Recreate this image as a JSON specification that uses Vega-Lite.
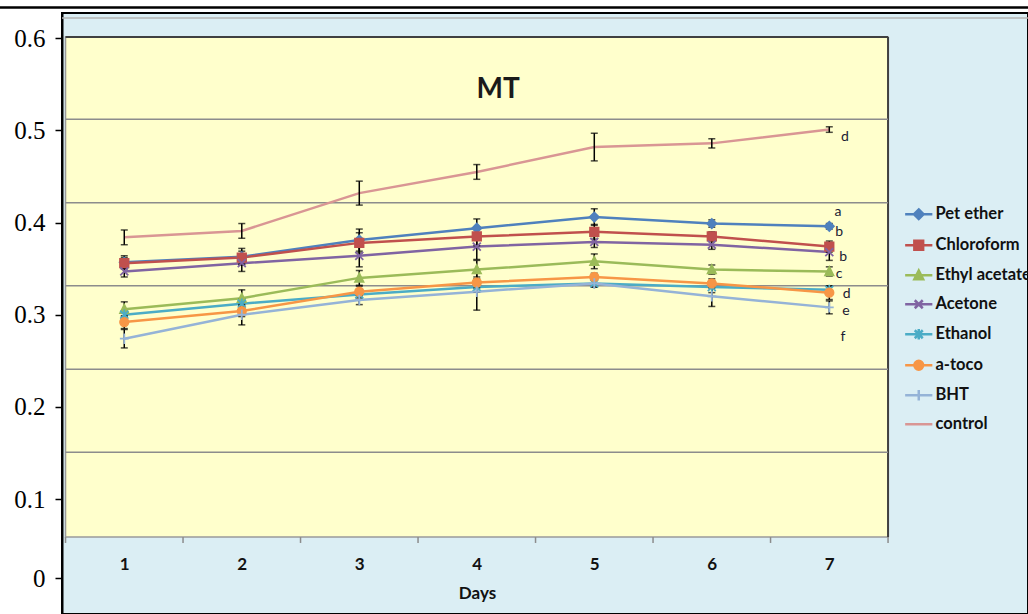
{
  "$schema": "https://vega.github.io/schema/vega-lite/v6.json",
  "width": 966,
  "height": 601,
  "autosize": {"type": "none"},
  "padding": {"left": 62, "top": 13, "right": 0, "bottom": 0},
  "background": "#ffffff",
  "config": {
    "view": {"fill": "#DBEEF4", "stroke": "#000000", "strokeWidth": 2},
    "axis": {"grid": false, "labelOverlap": false, "labelFlush": false},
    "legend": {
      "labelFont": "Lato",
      "labelFontWeight": "bold",
      "labelFontSize": 16.5,
      "labelColor": "#111111",
      "symbolStrokeWidth": 2.5,
      "symbolSize": 64,
      "rowPadding": 10,
      "labelOffset": 8.5,
      "padding": 0
    }
  },
  "datasets": {
    "obs": [
      {"series": "Pet ether", "day": 1, "value": 0.357, "err": 0.007},
      {"series": "Pet ether", "day": 2, "value": 0.363, "err": 0.009},
      {"series": "Pet ether", "day": 3, "value": 0.381, "err": 0.012},
      {"series": "Pet ether", "day": 4, "value": 0.394, "err": 0.010},
      {"series": "Pet ether", "day": 5, "value": 0.406, "err": 0.009},
      {"series": "Pet ether", "day": 6, "value": 0.399, "err": 0.004},
      {"series": "Pet ether", "day": 7, "value": 0.396, "err": 0.003},
      {"series": "Chloroform", "day": 1, "value": 0.356, "err": 0.006},
      {"series": "Chloroform", "day": 2, "value": 0.362, "err": 0.007},
      {"series": "Chloroform", "day": 3, "value": 0.378, "err": 0.011},
      {"series": "Chloroform", "day": 4, "value": 0.385, "err": 0.010},
      {"series": "Chloroform", "day": 5, "value": 0.390, "err": 0.008},
      {"series": "Chloroform", "day": 6, "value": 0.385, "err": 0.005},
      {"series": "Chloroform", "day": 7, "value": 0.374, "err": 0.006},
      {"series": "Ethyl acetate", "day": 1, "value": 0.306, "err": 0.008},
      {"series": "Ethyl acetate", "day": 2, "value": 0.318, "err": 0.009},
      {"series": "Ethyl acetate", "day": 3, "value": 0.340, "err": 0.008},
      {"series": "Ethyl acetate", "day": 4, "value": 0.349, "err": 0.010},
      {"series": "Ethyl acetate", "day": 5, "value": 0.358, "err": 0.008},
      {"series": "Ethyl acetate", "day": 6, "value": 0.349, "err": 0.005},
      {"series": "Ethyl acetate", "day": 7, "value": 0.347, "err": 0.005},
      {"series": "Acetone", "day": 1, "value": 0.347, "err": 0.006},
      {"series": "Acetone", "day": 2, "value": 0.356, "err": 0.009},
      {"series": "Acetone", "day": 3, "value": 0.364, "err": 0.012},
      {"series": "Acetone", "day": 4, "value": 0.374, "err": 0.014},
      {"series": "Acetone", "day": 5, "value": 0.379, "err": 0.006},
      {"series": "Acetone", "day": 6, "value": 0.376, "err": 0.005},
      {"series": "Acetone", "day": 7, "value": 0.368, "err": 0.009},
      {"series": "Ethanol", "day": 1, "value": 0.300, "err": 0.004},
      {"series": "Ethanol", "day": 2, "value": 0.312, "err": 0.005},
      {"series": "Ethanol", "day": 3, "value": 0.322, "err": 0.005},
      {"series": "Ethanol", "day": 4, "value": 0.330, "err": 0.005},
      {"series": "Ethanol", "day": 5, "value": 0.334, "err": 0.004},
      {"series": "Ethanol", "day": 6, "value": 0.330, "err": 0.006},
      {"series": "Ethanol", "day": 7, "value": 0.327, "err": 0.004},
      {"series": "a-toco", "day": 1, "value": 0.292, "err": 0.007},
      {"series": "a-toco", "day": 2, "value": 0.304, "err": 0.006},
      {"series": "a-toco", "day": 3, "value": 0.325, "err": 0.006},
      {"series": "a-toco", "day": 4, "value": 0.335, "err": 0.006},
      {"series": "a-toco", "day": 5, "value": 0.341, "err": 0.004},
      {"series": "a-toco", "day": 6, "value": 0.334, "err": 0.005},
      {"series": "a-toco", "day": 7, "value": 0.324, "err": 0.0075},
      {"series": "BHT", "day": 1, "value": 0.274, "err": 0.010},
      {"series": "BHT", "day": 2, "value": 0.300, "err": 0.011},
      {"series": "BHT", "day": 3, "value": 0.316, "err": 0.005},
      {"series": "BHT", "day": 4, "value": 0.325, "err": 0.020},
      {"series": "BHT", "day": 5, "value": 0.334, "err": 0.004},
      {"series": "BHT", "day": 6, "value": 0.320, "err": 0.011},
      {"series": "BHT", "day": 7, "value": 0.308, "err": 0.007},
      {"series": "control", "day": 1, "value": 0.384, "err": 0.008},
      {"series": "control", "day": 2, "value": 0.391, "err": 0.008},
      {"series": "control", "day": 3, "value": 0.432, "err": 0.013},
      {"series": "control", "day": 4, "value": 0.455, "err": 0.008},
      {"series": "control", "day": 5, "value": 0.482, "err": 0.015},
      {"series": "control", "day": 6, "value": 0.486, "err": 0.005},
      {"series": "control", "day": 7, "value": 0.501, "err": 0.003}
    ],
    "letters": [
      {"letter": "d", "day": 7.134, "pos": 0.4932},
      {"letter": "a", "day": 7.074, "pos": 0.4118},
      {"letter": "b", "day": 7.083, "pos": 0.3895},
      {"letter": "b", "day": 7.117, "pos": 0.3630},
      {"letter": "c", "day": 7.083, "pos": 0.3439},
      {"letter": "d", "day": 7.148, "pos": 0.3220},
      {"letter": "e", "day": 7.142, "pos": 0.3045},
      {"letter": "f", "day": 7.117, "pos": 0.2761}
    ],
    "grid": [{"g": 0.5121}, {"g": 0.4216}, {"g": 0.3315}, {"g": 0.2408}, {"g": 0.1507}],
    "xticks": [{"t": 0.5}, {"t": 1.5}, {"t": 2.5}, {"t": 3.5}, {"t": 4.5}, {"t": 5.5}, {"t": 6.5}, {"t": 7.5}],
    "one": [{"k": 1}]
  },
  "layer": [
    {
      "data": {"name": "one"},
      "mark": {"type": "rule", "color": "#000000", "strokeWidth": 2.5},
      "encoding": {
        "x": {"datum": -0.06, "type": "quantitative", "scale": {"domain": [0.47, 8.691], "nice": false, "zero": false}},
        "x2": {"datum": 8.7},
        "y": {"datum": 0.6334, "type": "quantitative", "scale": {"domain": [-0.0248, 0.6275], "nice": false, "zero": false}}
      }
    },
    {
      "data": {"name": "one"},
      "mark": {"type": "rule", "color": "#b4b4b4", "strokeWidth": 1.5},
      "encoding": {
        "x": {"datum": 0.47, "type": "quantitative"},
        "x2": {"datum": 8.691},
        "y": {"datum": 0.622, "type": "quantitative"}
      }
    },
    {
      "data": {"name": "one"},
      "mark": {"type": "rect", "fill": "#FFFFCC", "stroke": "#9a9a9a", "strokeWidth": 1.5},
      "encoding": {
        "x": {"datum": 0.5, "type": "quantitative"},
        "x2": {"datum": 7.5},
        "y": {"datum": 0.0588, "type": "quantitative"},
        "y2": {"datum": 0.6014}
      }
    },
    {
      "data": {"name": "one"},
      "mark": {"type": "rule", "color": "#404040", "strokeWidth": 2},
      "encoding": {
        "x": {"datum": 0.5, "type": "quantitative"},
        "x2": {"datum": 7.5},
        "y": {"datum": 0.6014, "type": "quantitative"}
      }
    },
    {
      "data": {"name": "one"},
      "mark": {"type": "rule", "color": "#404040", "strokeWidth": 2},
      "encoding": {
        "x": {"datum": 7.5, "type": "quantitative"},
        "y": {"datum": 0.0588, "type": "quantitative"},
        "y2": {"datum": 0.6014}
      }
    },
    {
      "data": {"name": "grid"},
      "mark": {"type": "rule", "color": "#8c8c8c", "strokeWidth": 1.5},
      "encoding": {
        "x": {"datum": 0.5, "type": "quantitative"},
        "x2": {"datum": 7.5},
        "y": {"field": "g", "type": "quantitative", "title": null}
      }
    },
    {
      "data": {"name": "xticks"},
      "mark": {"type": "rule", "color": "#8c8c8c", "strokeWidth": 1.5},
      "encoding": {
        "x": {"field": "t", "type": "quantitative", "title": "Days"},
        "y": {"datum": 0.0588, "type": "quantitative"},
        "y2": {"datum": 0.0523}
      }
    },
    {
      "data": {"name": "obs"},
      "mark": {"type": "line", "strokeWidth": 2.5},
      "encoding": {
        "x": {
          "field": "day", "type": "quantitative", "title": "Days",
          "scale": {"domain": [0.47, 8.691], "nice": false, "zero": false},
          "axis": {
            "values": [1, 2, 3, 4, 5, 6, 7], "format": "d",
            "labelFont": "Lato", "labelFontWeight": "bold", "labelFontSize": 17, "labelColor": "#111111",
            "ticks": false, "domain": false, "grid": false,
            "labelPadding": 19, "offset": -77,
            "titleFont": "Lato", "titleFontWeight": "bold", "titleFontSize": 17, "titleColor": "#111111",
            "titleX": 415, "titleY": 56, "titleBaseline": "middle", "titleAlign": "center", "titleAnchor": null
          }
        },
        "y": {
          "field": "value", "type": "quantitative", "title": null,
          "scale": {"domain": [-0.0248, 0.6275], "nice": false, "zero": false},
          "axis": {
            "values": [0.014, 0.1, 0.2, 0.3, 0.4, 0.5, 0.6],
            "labelExpr": "datum.value < 0.05 ? '0' : format(datum.value, '.1f')",
            "labelFont": "Liberation Serif", "labelFontSize": 25, "labelColor": "#000000",
            "domainColor": "#000000", "domainWidth": 2,
            "tickColor": "#000000", "tickSize": 7, "tickWidth": 1.5,
            "labelPadding": 10, "grid": false
          }
        },
        "color": {
          "field": "series", "type": "nominal",
          "scale": {
            "domain": ["Pet ether", "Chloroform", "Ethyl acetate", "Acetone", "Ethanol", "a-toco", "BHT", "control"],
            "range": ["#4F81BD", "#C0504D", "#9BBB59", "#8064A2", "#4BACC6", "#F79646", "#95B3D7", "#D99694"]
          }
        },
        "detail": {"field": "series"}
      }
    },
    {
      "data": {"name": "obs"},
      "mark": {"type": "errorbar", "ticks": true, "size": 7, "thickness": 1.5, "color": "#000000"},
      "encoding": {
        "x": {"field": "day", "type": "quantitative", "title": "Days"},
        "y": {"field": "value", "type": "quantitative", "title": null},
        "yError": {"field": "err"}
      }
    },
    {
      "data": {"name": "obs"},
      "transform": [{"filter": "datum.series == 'Pet ether'"}],
      "mark": {"type": "point", "shape": "M0,-1.2L1.2,0L0,1.2L-1.2,0Z", "size": 64, "filled": true, "fill": "#4F81BD", "stroke": "#4F81BD", "strokeWidth": 1.5, "opacity": 1},
      "encoding": {
        "x": {"field": "day", "type": "quantitative", "title": "Days"},
        "y": {"field": "value", "type": "quantitative", "title": null}
      }
    },
    {
      "data": {"name": "obs"},
      "transform": [{"filter": "datum.series == 'Chloroform'"}],
      "mark": {"type": "point", "shape": "M-1.1,-1.1H1.1V1.1H-1.1Z", "size": 64, "filled": true, "fill": "#C0504D", "stroke": "#C0504D", "strokeWidth": 1.5, "opacity": 1},
      "encoding": {
        "x": {"field": "day", "type": "quantitative", "title": "Days"},
        "y": {"field": "value", "type": "quantitative", "title": null}
      }
    },
    {
      "data": {"name": "obs"},
      "transform": [{"filter": "datum.series == 'Ethyl acetate'"}],
      "mark": {"type": "point", "shape": "M0,-1.2L1.1,1L-1.1,1Z", "size": 64, "filled": true, "fill": "#9BBB59", "stroke": "#9BBB59", "strokeWidth": 1.5, "opacity": 1},
      "encoding": {
        "x": {"field": "day", "type": "quantitative", "title": "Days"},
        "y": {"field": "value", "type": "quantitative", "title": null}
      }
    },
    {
      "data": {"name": "obs"},
      "transform": [{"filter": "datum.series == 'Acetone'"}],
      "mark": {"type": "point", "shape": "M-1,-1L1,1M-1,1L1,-1", "size": 64, "filled": false, "stroke": "#8064A2", "strokeWidth": 1.8, "opacity": 1},
      "encoding": {
        "x": {"field": "day", "type": "quantitative", "title": "Days"},
        "y": {"field": "value", "type": "quantitative", "title": null}
      }
    },
    {
      "data": {"name": "obs"},
      "transform": [{"filter": "datum.series == 'Ethanol'"}],
      "mark": {"type": "point", "shape": "M-1,-1L1,1M-1,1L1,-1M0,-1.3V1.3", "size": 64, "filled": false, "stroke": "#4BACC6", "strokeWidth": 1.8, "opacity": 1},
      "encoding": {
        "x": {"field": "day", "type": "quantitative", "title": "Days"},
        "y": {"field": "value", "type": "quantitative", "title": null}
      }
    },
    {
      "data": {"name": "obs"},
      "transform": [{"filter": "datum.series == 'a-toco'"}],
      "mark": {"type": "point", "shape": "M-1.1,0A1.1,1.1,0,1,1,1.1,0A1.1,1.1,0,1,1,-1.1,0Z", "size": 64, "filled": true, "fill": "#F79646", "stroke": "#F79646", "strokeWidth": 1.5, "opacity": 1},
      "encoding": {
        "x": {"field": "day", "type": "quantitative", "title": "Days"},
        "y": {"field": "value", "type": "quantitative", "title": null}
      }
    },
    {
      "data": {"name": "obs"},
      "transform": [{"filter": "datum.series == 'BHT'"}],
      "mark": {"type": "point", "shape": "M-1.1,0H1.1M0,-1.3V1.3", "size": 64, "filled": false, "stroke": "#95B3D7", "strokeWidth": 1.8, "opacity": 1},
      "encoding": {
        "x": {"field": "day", "type": "quantitative", "title": "Days"},
        "y": {"field": "value", "type": "quantitative", "title": null}
      }
    },
    {
      "data": {"name": "obs"},
      "transform": [{"filter": "false"}],
      "mark": {"type": "point", "filled": false, "size": 64, "strokeWidth": 2.5, "opacity": 1},
      "encoding": {
        "x": {"field": "day", "type": "quantitative", "title": "Days"},
        "y": {"field": "value", "type": "quantitative", "title": null},
        "color": {
          "field": "series", "type": "nominal",
          "legend": {"title": null, "orient": "none", "legendX": 848.5, "legendY": 193}
        },
        "fill": {
          "field": "series", "type": "nominal",
          "legend": {"title": null, "orient": "none", "legendX": 848.5, "legendY": 193},
          "scale": {
            "domain": ["Pet ether", "Chloroform", "Ethyl acetate", "Acetone", "Ethanol", "a-toco", "BHT", "control"],
            "range": ["#4F81BD", "#C0504D", "#9BBB59", "#8064A2", "#4BACC6", "#F79646", "#95B3D7", "#D99694"]
          }
        },
        "shape": {
          "field": "series", "type": "nominal",
          "legend": {"title": null, "orient": "none", "legendX": 848.5, "legendY": 193},
          "scale": {
            "domain": ["Pet ether", "Chloroform", "Ethyl acetate", "Acetone", "Ethanol", "a-toco", "BHT", "control"],
            "range": [
              "M-3.4,0H3.4M0,-1.2L1.2,0L0,1.2L-1.2,0Z",
              "M-3.4,0H3.4M-1.1,-1.1H1.1V1.1H-1.1Z",
              "M-3.4,0H3.4M0,-1.2L1.1,1L-1.1,1Z",
              "M-3.4,0H3.4M-1,-1L1,1M-1,1L1,-1",
              "M-3.4,0H3.4M-1,-1L1,1M-1,1L1,-1M0,-1.3V1.3",
              "M-3.4,0H3.4M-1.1,0A1.1,1.1,0,1,1,1.1,0A1.1,1.1,0,1,1,-1.1,0Z",
              "M-3.4,0H3.4M0,-1.3V1.3",
              "M-3.4,0H3.4"
            ]
          }
        }
      }
    },
    {
      "data": {"name": "letters"},
      "mark": {"type": "text", "font": "Lato", "fontSize": 14, "color": "#1a1a33", "align": "center", "baseline": "middle"},
      "encoding": {
        "x": {"field": "day", "type": "quantitative", "title": "Days"},
        "y": {"field": "pos", "type": "quantitative", "title": null},
        "text": {"field": "letter"}
      }
    },
    {
      "data": {"name": "one"},
      "mark": {"type": "text", "text": "MT", "font": "Lato", "fontWeight": "bold", "fontSize": 28, "color": "#1a1a1a", "align": "center", "baseline": "middle"},
      "encoding": {
        "x": {"datum": 4.181, "type": "quantitative"},
        "y": {"datum": 0.5444, "type": "quantitative"}
      }
    }
  ]
}
